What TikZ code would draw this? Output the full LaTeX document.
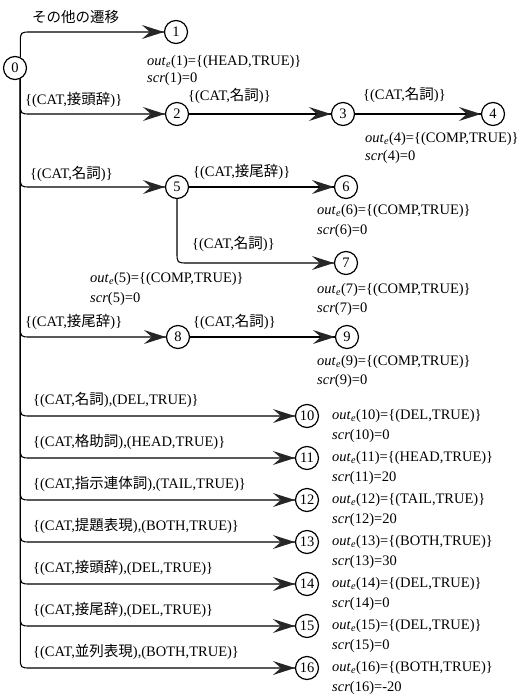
\documentclass[tikz,border=0pt]{standalone}
\usepackage{fontspec}
\setmainfont{Liberation Serif}
\newfontfamily\jp{Noto Sans CJK JP}
\usetikzlibrary{calc}
\newcommand\oute[1]{\textit{out}\textsubscript{\textit{e}}(#1)}
\newcommand\scrv[2]{\textit{scr}(#1)=#2}
% barbed arrow head ending at the west side of state #1
\newcommand\tipat[1]{\fill[black!85,line join=miter] (#1.west) -- ++(-22,-7) -- ++(8,7) -- ++(-8,7) -- cycle;}
% bent connector: from #1 vertically, rounded corner, then horizontally into #2; #3 = +1 (down) or -1 (up)
\newcommand\bendto[3]{\draw[tr] (#1) -- ($(#1 |- #2)+(0,-11*#3)$) .. controls (#1 |- #2) .. ($(#1 |- #2)+(11,0)$) -- (#2); \tipat{#2}}
\newcommand\straight[2]{\draw[tr] (#1) -- (#2); \tipat{#2}}
\begin{document}
\begin{tikzpicture}[x=1pt,y=-1pt, font=\fontsize{14.5}{16}\selectfont,
 st/.style={circle,draw,line width=1.2pt,minimum size=23pt,inner sep=0pt},
 tr/.style={line width=1.1pt},
 lb/.style={anchor=west, inner sep=0pt},
]
\useasboundingbox (0,0) rectangle (521,699);
% states
\node[st] (n0) at (15,68) {0};
\node[st] (n1) at (176,32) {1};
\node[st] (n2) at (177,114) {2};
\node[st] (n3) at (343,114) {3};
\node[st] (n4) at (493,114) {4};
\node[st] (n5) at (177,187) {5};
\node[st] (n6) at (346,187) {6};
\node[st] (n7) at (346,263) {7};
\node[st] (n8) at (178,337) {8};
\node[st] (n9) at (347,337) {9};
\node[st] (n10) at (307,416) {10};
\node[st] (n11) at (307,458) {11};
\node[st] (n12) at (307,500) {12};
\node[st] (n13) at (307,542) {13};
\node[st] (n14) at (307,584) {14};
\node[st] (n15) at (307,626) {15};
\node[st] (n16) at (307,668) {16};
\coordinate (up) at (n0.64);
\coordinate (dn) at (n0.-64);
% transitions
\bendto{up}{n1}{-1}
\bendto{dn}{n2}{1}
\straight{n2}{n3}
\straight{n3}{n4}
\bendto{dn}{n5}{1}
\straight{n5}{n6}
\bendto{n5.south}{n7}{1}
\bendto{dn}{n8}{1}
\straight{n8}{n9}
\bendto{dn}{n10}{1}
\bendto{dn}{n11}{1}
\bendto{dn}{n12}{1}
\bendto{dn}{n13}{1}
\bendto{dn}{n14}{1}
\bendto{dn}{n15}{1}
\bendto{dn}{n16}{1}
% transition labels
\node[lb] (t01) at (32,17) {{\jp その他の遷移}};
\node[lb] (t02) at (25,100) {\{(CAT,{\jp 接頭辞})\}};
\node[lb] (t23) at (188,96) {\{(CAT,{\jp 名詞})\}};
\node[lb] (t34) at (363,95) {\{(CAT,{\jp 名詞})\}};
\node[lb] (t05) at (30,174) {\{(CAT,{\jp 名詞})\}};
\node[lb] (t56) at (193,172) {\{(CAT,{\jp 接尾辞})\}};
\node[lb] (t57) at (192,244) {\{(CAT,{\jp 名詞})\}};
\node[lb] (t08) at (25,322) {\{(CAT,{\jp 接尾辞})\}};
\node[lb] (t89) at (193,322) {\{(CAT,{\jp 名詞})\}};
\node[lb] (t010) at (33,400) {\{(CAT,{\jp 名詞}),(DEL,TRUE)\}};
\node[lb] (t011) at (33,442) {\{(CAT,{\jp 格助詞}),(HEAD,TRUE)\}};
\node[lb] (t012) at (33,484) {\{(CAT,{\jp 指示連体詞}),(TAIL,TRUE)\}};
\node[lb] (t013) at (33,526) {\{(CAT,{\jp 提題表現}),(BOTH,TRUE)\}};
\node[lb] (t014) at (33,568) {\{(CAT,{\jp 接頭辞}),(DEL,TRUE)\}};
\node[lb] (t015) at (33,610) {\{(CAT,{\jp 接尾辞}),(DEL,TRUE)\}};
\node[lb] (t016) at (33,652) {\{(CAT,{\jp 並列表現}),(BOTH,TRUE)\}};
% state annotations
\node[lb] (o1) at (147,62) {\oute{1}=\{(HEAD,TRUE)\}};
\node[lb] (s1) at (147,79) {\scrv{1}{0}};
\node[lb] (o4) at (365,139) {\oute{4}=\{(COMP,TRUE)\}};
\node[lb] (s4) at (365,157) {\scrv{4}{0}};
\node[lb] (o6) at (317,211) {\oute{6}=\{(COMP,TRUE)\}};
\node[lb] (s6) at (317,231) {\scrv{6}{0}};
\node[lb] (o5) at (90,279) {\oute{5}=\{(COMP,TRUE)\}};
\node[lb] (s5) at (90,299) {\scrv{5}{0}};
\node[lb] (o7) at (317,290) {\oute{7}=\{(COMP,TRUE)\}};
\node[lb] (s7) at (317,309) {\scrv{7}{0}};
\node[lb] (o9) at (317,362) {\oute{9}=\{(COMP,TRUE)\}};
\node[lb] (s9) at (317,381) {\scrv{9}{0}};
\node[lb] (o10) at (332,416) {\oute{10}=\{(DEL,TRUE)\}};
\node[lb] (s10) at (332,436) {\scrv{10}{0}};
\node[lb] (o11) at (332,458) {\oute{11}=\{(HEAD,TRUE)\}};
\node[lb] (s11) at (332,478) {\scrv{11}{20}};
\node[lb] (o12) at (332,500) {\oute{12}=\{(TAIL,TRUE)\}};
\node[lb] (s12) at (332,520) {\scrv{12}{20}};
\node[lb] (o13) at (332,542) {\oute{13}=\{(BOTH,TRUE)\}};
\node[lb] (s13) at (332,562) {\scrv{13}{30}};
\node[lb] (o14) at (332,584) {\oute{14}=\{(DEL,TRUE)\}};
\node[lb] (s14) at (332,604) {\scrv{14}{0}};
\node[lb] (o15) at (332,626) {\oute{15}=\{(DEL,TRUE)\}};
\node[lb] (s15) at (332,646) {\scrv{15}{0}};
\node[lb] (o16) at (332,668) {\oute{16}=\{(BOTH,TRUE)\}};
\node[lb] (s16) at (332,688) {\scrv{16}{-20}};
\end{tikzpicture}
\end{document}
